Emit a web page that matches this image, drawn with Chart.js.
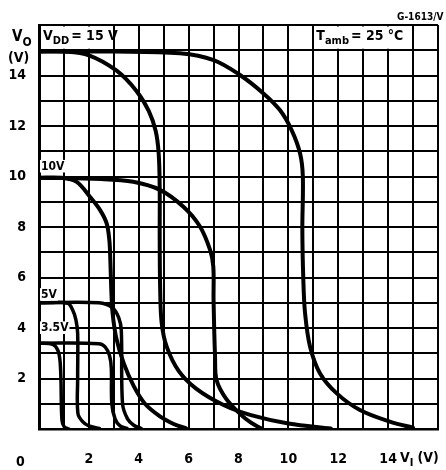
<!DOCTYPE html>
<html><head><meta charset="utf-8">
<script src="https://cdn.jsdelivr.net/npm/chart.js@4/dist/chart.umd.min.js"></script>
<style>html,body{margin:0;padding:0;background:#fff;}#wrap{width:446px;height:470px;position:relative;}</style>
</head><body><div id="wrap"><canvas id="c"></canvas></div>
<script>
// ---- data (VI in V, VO in V) ----
const xTickLabels = [2, 4, 6, 8, 10, 12, 14];
const yTickLabels = [2, 4, 6, 8, 10, 12, 14];
const vddLevels = [15, 10, 5, 3.5];

const vdd15a = [[0,14.95],[1.0,14.95],[2.0,14.8],[3.1,14.2],[3.9,13.4],[4.4,12.6],[4.68,11.8],[4.8,10.9],[4.84,9.5],[4.84,7.5],[4.86,5.5],[4.92,4.2],[5.12,3.26],[5.6,2.3],[6.3,1.6],[7.4,0.95],[8.5,0.55],[10.0,0.22],[11.7,0.02]];
const vdd15b = [[0,14.95],[3.0,14.95],[5.65,14.88],[7.0,14.61],[8.06,14.02],[9.0,13.29],[9.66,12.63],[10.13,11.84],[10.47,10.91],[10.58,10.0],[10.56,7.9],[10.6,5.9],[10.67,4.58],[10.87,3.26],[11.27,2.2],[11.94,1.41],[12.87,0.75],[14.07,0.29],[15.0,0.05]];
const vdd10a = [[0,9.95],[0.9,9.95],[1.51,9.79],[2.04,9.2],[2.45,8.67],[2.71,8.15],[2.82,7.49],[2.86,6.7],[2.9,5.5],[2.95,4.6],[3.1,3.6],[3.4,2.6],[3.8,1.7],[4.25,1.0],[4.85,0.5],[5.4,0.2],[5.9,0.02]];
const vdd10b = [[0,9.95],[2.5,9.9],[3.78,9.79],[4.85,9.47],[5.79,8.8],[6.46,8.01],[6.86,7.09],[6.99,6.43],[7.0,5.1],[7.06,2.86],[7.12,1.94],[7.5,1.2],[8.06,0.6],[8.5,0.25],[8.9,0.03]];
const vdd5a = [[0,5.0],[1.15,4.98],[1.35,4.71],[1.48,4.32],[1.55,3.79],[1.55,2.0],[1.56,0.62],[1.75,0.29],[2.0,0.12],[2.42,0.02]];
const vdd5b = [[0,5.0],[2.4,5.0],[2.95,4.8],[3.2,4.4],[3.3,3.9],[3.35,1.0],[3.55,0.4],[3.8,0.15],[4.1,0.02]];
const vdd35a = [[0,3.4],[0.55,3.35],[0.75,3.13],[0.84,2.73],[0.88,1.94],[0.92,0.36],[1.01,0.09],[1.2,0.0]];
const vdd35b = [[0,3.4],[2.4,3.38],[2.65,3.25],[2.83,2.9],[2.9,2.4],[2.92,1.0],[3.05,0.4],[3.25,0.12],[3.53,0.02]];

const curves = [vdd15a, vdd15b, vdd10a, vdd10b, vdd5a, vdd5b, vdd35a, vdd35b];
const widths = [4, 4, 4, 4, 3.5, 3.5, 3.5, 3.5];

const FONT = "'Liberation Sans Narrow','DejaVu Sans Condensed','Liberation Sans',sans-serif";

function drawRich(ctx, x, y, parts, size, bg) {
  let cx = x;
  const items = parts.map(p => {
    const s = p.sub ? Math.round(size * 0.78) : size;
    ctx.font = `bold ${s}px ${FONT}`;
    const w = ctx.measureText(p.t).width;
    const it = {t: p.t, s, w, x: cx, y: y + (p.sub ? size * 0.3 : 0)};
    cx += w + (p.gap || 0);
    return it;
  });
  if (bg) {
    ctx.fillStyle = '#fff';
    ctx.fillRect(x - 1, y - size * 0.8, cx - x + 2, size * 1.05);
  }
  ctx.fillStyle = '#000';
  ctx.textBaseline = 'alphabetic';
  ctx.textAlign = 'left';
  items.forEach(it => { ctx.font = `bold ${it.s}px ${FONT}`; ctx.fillText(it.t, it.x, it.y); });
}

const annot = {
  id: 'annot',
  beforeDatasetsDraw(chart) {
    const {ctx, scales: {x, y}} = chart;
    ctx.save();
    ctx.fillStyle = '#fff';
    const boxes = [[0, 3, 15, 16], [11, 15, 15, 16]];
    boxes.forEach(([x0, x1, y0, y1]) => {
      const l = x.getPixelForValue(x0) + 2, r = x.getPixelForValue(x1) - 1.5;
      const t = y.getPixelForValue(y1) + 1.5, b = y.getPixelForValue(y0) - 1.5;
      ctx.fillRect(l, t, r - l, b - t);
    });
    ctx.restore();
  },
  afterDatasetsDraw(chart) {
    const {ctx, chartArea: a, scales: {x, y}} = chart;
    ctx.save();
    drawRich(ctx, a.left + 4, y.getPixelForValue(15) - 10, [{t:'V'},{t:'DD', sub:true, gap:2},{t:'= 15 V'}], 14);
    drawRich(ctx, x.getPixelForValue(11) + 3, y.getPixelForValue(15) - 10, [{t:'T'},{t:'amb', sub:true, gap:2},{t:'= 25 °C'}], 14);
    drawRich(ctx, a.left + 2, y.getPixelForValue(10) - 7, [{t:'10V'}], 12, true);
    drawRich(ctx, a.left + 2, y.getPixelForValue(5) - 5, [{t:'5V'}], 12, true);
    drawRich(ctx, a.left + 2, y.getPixelForValue(4) + 3, [{t:'3.5V'}], 12, true);
    // axis titles and origin
    drawRich(ctx, 12, 41, [{t:'V'},{t:'O', sub:true}], 15);
    drawRich(ctx, 8, 62, [{t:'(V)'}], 14);
    drawRich(ctx, a.left - 23, 466, [{t:'0'}], 14);
    drawRich(ctx, 400, 462, [{t:'V'},{t:'I', sub:true, gap:4},{t:'(V)'}], 14);
    ctx.font = `bold 10px ${FONT}`;
    ctx.fillStyle = '#000';
    ctx.fillText('G-1613/V', 397, 20);
    ctx.restore();
  }
};

new Chart(document.getElementById('c'), {
  type: 'line',
  data: {
    datasets: curves.map((c, i) => ({
      data: c.map(([vx, vy]) => ({x: vx, y: vy})),
      borderColor: '#000',
      borderWidth: widths[i],
      pointRadius: 0,
      tension: 0.35,
      fill: false,
      borderCapStyle: 'round',
      borderJoinStyle: 'round'
    }))
  },
  options: {
    responsive: true,
    maintainAspectRatio: false,
    animation: false,
    layout: {padding: {top: 25, right: 8, left: 0, bottom: 0}},
    plugins: {legend: {display: false}, tooltip: {enabled: false}},
    scales: {
      x: {
        type: 'linear', min: 0, max: 16,
        afterFit: s => { s.height = 41; s.paddingLeft = 0; s.paddingRight = 0; },
        ticks: {
          stepSize: 1, autoSkip: false, maxRotation: 0, padding: 22,
          color: '#000', font: {family: FONT, size: 14, weight: 'bold'},
          callback: v => xTickLabels.includes(v) ? String(v) : ''
        },
        grid: {color: '#000', lineWidth: 2, drawTicks: false},
        border: {color: '#000', width: 2.5}
      },
      y: {
        type: 'linear', min: 0, max: 16,
        afterFit: s => { s.width = 39; s.paddingTop = 0; s.paddingBottom = 0; },
        ticks: {
          stepSize: 1, autoSkip: false, padding: 13,
          color: '#000', font: {family: FONT, size: 14, weight: 'bold'},
          callback: v => yTickLabels.includes(v) ? String(v) : ''
        },
        grid: {color: '#000', lineWidth: 2, drawTicks: false},
        border: {color: '#000', width: 3}
      }
    }
  },
  plugins: [annot]
});
</script>
</body></html>
